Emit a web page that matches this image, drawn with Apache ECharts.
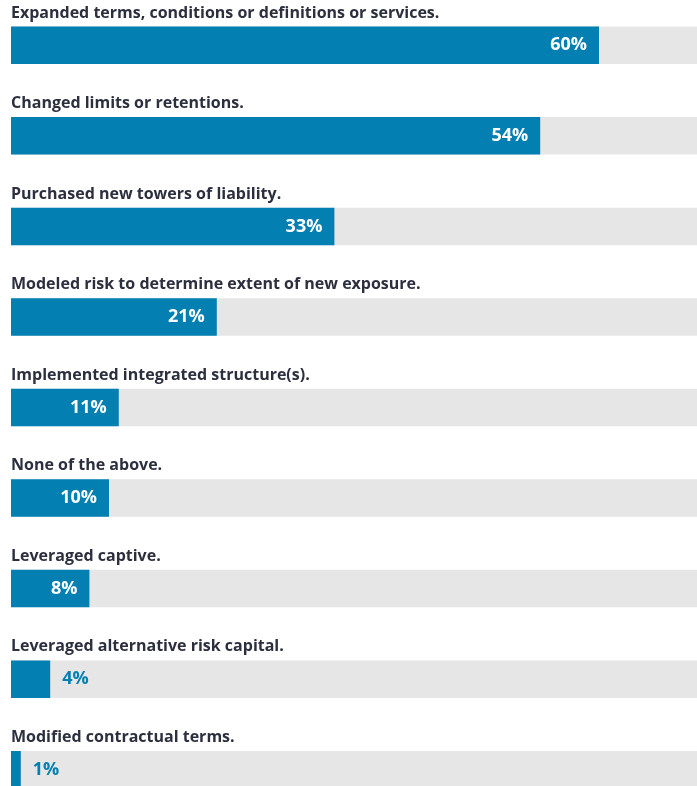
<!DOCTYPE html>
<html>
<head>
<meta charset="utf-8">
<script src="https://cdn.jsdelivr.net/npm/echarts@6/dist/echarts.min.js"></script>
<style>
html,body{margin:0;padding:0;background:#fff;}
#chart{width:697px;height:786px;}
</style>
</head>
<body>
<div id="chart"></div>
<script>
const categories = [
  "Expanded terms, conditions or definitions or services.",
  "Changed limits or retentions.",
  "Purchased new towers of liability.",
  "Modeled risk to determine extent of new exposure.",
  "Implemented integrated structure(s).",
  "None of the above.",
  "Leveraged captive.",
  "Leveraged alternative risk capital.",
  "Modified contractual terms."
];
const values = [60, 54, 33, 21, 11, 10, 8, 4, 1];
const axisMax = 70;

const BLUE = '#037fb2';
const dataItems = values.map(v => {
  const item = { value: v };
  if (v < 6) {
    item.label = { position: 'right', color: BLUE, distance: 12 };
  }
  return item;
});
const trackItems = categories.map(() => axisMax);

const chart = echarts.init(document.getElementById('chart'));
chart.setOption({
  animation: false,
  grid: { left: 11, right: 0, top: 0, height: 815, outerBoundsMode: 'none', containLabel: false },
  xAxis: { type: 'value', min: 0, max: axisMax, show: false },
  yAxis: {
    type: 'category',
    data: categories,
    inverse: true,
    axisLine: { show: false },
    axisTick: { show: false },
    splitLine: { show: false },
    axisLabel: { show: false }
  },
  series: [{
    type: 'bar',
    data: trackItems,
    barWidth: 37.5,
    z: 1,
    silent: true,
    itemStyle: { color: '#e6e6e6' },
    label: {
      show: true,
      position: [0, -13.5],
      align: 'left',
      verticalAlign: 'middle',
      formatter: '{b}',
      color: '#2b2f3e',
      fontFamily: 'Open Sans',
      fontWeight: 'bold',
      fontSize: 16
    }
  }, {
    type: 'bar',
    data: dataItems,
    barWidth: 37.5,
    barGap: '-100%',
    z: 2,
    itemStyle: { color: BLUE },
    label: {
      show: true,
      position: 'insideRight',
      distance: 12,
      formatter: '{c}%',
      color: '#ffffff',
      fontFamily: 'Open Sans',
      fontWeight: 'bold',
      fontSize: 18,
      letterSpacing: 0.5
    }
  }]
});
</script>
</body>
</html>
